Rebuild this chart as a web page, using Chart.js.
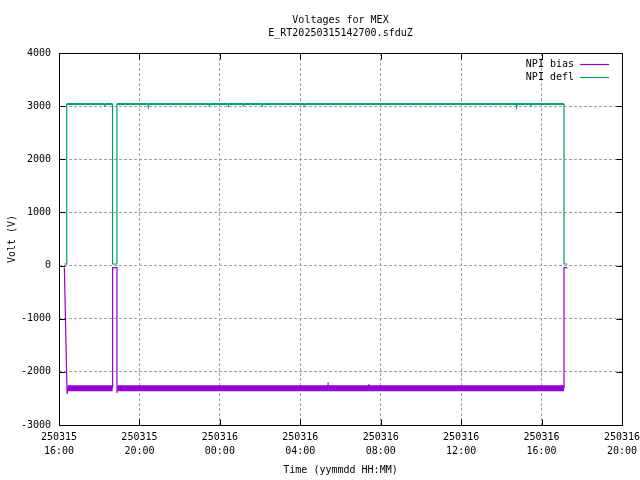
<!DOCTYPE html>
<html>
<head>
<meta charset="utf-8">
<title>Voltages for MEX</title>
<script src="https://cdn.jsdelivr.net/npm/chart.js@4.4.1/dist/chart.umd.min.js"></script>
<style>
body { margin: 0; background: #fff; }
#chart { display: block; }
</style>
</head>
<body>
<canvas id="chart" width="640" height="480"></canvas>
<script>
// Werte (yymmdd HH:MM)
var bias_times = ['250315 16:16', '250315 16:24', '250315 16:25', '250315 18:40', '250315 18:40',
    '250315 18:53', '250315 18:53', '250315 18:54', '250316 05:23', '250316 05:23', '250316 05:23',
    '250316 07:25', '250316 07:25', '250316 07:25', '250316 17:07', '250316 17:07', '250316 17:17'];
var bias_values = [-40, -2400, -2310, -2310, -40,
    -40, -2400, -2310, -2310, -2200, -2310,
    -2310, -2230, -2310, -2310, -40, -40];

var defl_times = ['250315 16:16', '250315 16:23', '250315 16:23', '250315 18:16', '250315 18:16', '250315 18:17',
    '250315 18:40', '250315 18:40', '250315 18:53', '250315 18:53', '250315 20:26', '250315 20:26', '250315 20:27',
    '250315 23:28', '250315 23:28', '250315 23:29', '250316 00:25', '250316 00:25', '250316 00:26',
    '250316 01:10', '250316 01:10', '250316 01:11', '250316 02:06', '250316 02:06', '250316 02:07',
    '250316 04:11', '250316 04:11', '250316 04:12', '250316 14:46', '250316 14:46', '250316 14:47',
    '250316 15:28', '250316 15:28', '250316 15:29', '250316 17:07', '250316 17:07', '250316 17:17'];
var defl_values = [30, 30, 3040, 3040, 2985, 3040,
    3040, 30, 30, 3040, 3040, 2950, 3040,
    3040, 2990, 3040, 3040, 2980, 3040,
    3040, 2995, 3040, 3040, 2985, 3040,
    3040, 2975, 3040, 3040, 3020, 3040,
    3040, 2990, 3040, 3040, 30, 30];

var x_ticks = [16, 20, 24, 28, 32, 36, 40, 44];
var x_tick_labels = [['250315', '16:00'], ['250315', '20:00'], ['250316', '00:00'], ['250316', '04:00'],
    ['250316', '08:00'], ['250316', '12:00'], ['250316', '16:00'], ['250316', '20:00']];
var y_ticks = [-3000, -2000, -1000, 0, 1000, 2000, 3000, 4000];
var y_tick_labels = ['-3000', '-2000', '-1000', '0', '1000', '2000', '3000', '4000'];

var font_name = "'DejaVu Sans Mono', 'Liberation Mono', monospace";
var bias_color = '#9400d3';
var defl_color = '#009e73';

// Stunden seit 250315 00:00
function to_hours(s) {
    var day = parseInt(s.substr(0, 6)) - 250315;
    var hh = parseInt(s.substr(7, 2));
    var mm = parseInt(s.substr(10, 2));
    return day * 24 + hh + mm / 60;
}

function make_points(times, values) {
    var pts = [];
    for (var i = 0; i < times.length; i++) {
        pts.push({x: to_hours(times[i]), y: values[i]});
    }
    return pts;
}

/* --------------------- Rahmen und Ticks nach innen --------------------- */
var frame_plugin = {
    id: 'frame',
    afterDatasetsDraw: function (chart) {
        var c = chart.ctx, a = chart.chartArea;
        var xs = chart.scales.x, ys = chart.scales.y;
        var L = Math.round(a.left) + 0.5, R = Math.round(a.right) + 0.5;
        var T = Math.round(a.top) + 0.5, B = Math.round(a.bottom) + 0.5;
        c.save();
        c.strokeStyle = '#000';
        c.lineWidth = 1;
        c.strokeRect(L, T, R - L, B - T);
        c.beginPath();
        x_ticks.forEach(function (v) {
            var px = Math.round(xs.getPixelForValue(v)) + 0.5;
            c.moveTo(px, B); c.lineTo(px, B - 6);
            c.moveTo(px, T); c.lineTo(px, T + 6);
        });
        y_ticks.forEach(function (v) {
            var py = Math.round(ys.getPixelForValue(v)) + 0.5;
            c.moveTo(L, py); c.lineTo(L + 6, py);
            c.moveTo(R, py); c.lineTo(R - 6, py);
        });
        c.stroke();
        c.restore();
    },
    afterDraw: function (chart) {
        // Legende wie bei gnuplot: Text rechtsbuendig, Linie dahinter
        var c = chart.ctx;
        c.save();
        c.font = '10px ' + font_name;
        c.textAlign = 'right';
        c.textBaseline = 'middle';
        chart.data.datasets.forEach(function (ds, i) {
            var y = 64 + i * 13;
            c.fillStyle = '#000';
            c.fillText(ds.label, 574, y);
            c.strokeStyle = ds.borderColor;
            c.lineWidth = 1.2;
            c.beginPath();
            c.moveTo(580, y + 0.5);
            c.lineTo(609, y + 0.5);
            c.stroke();
        });
        c.restore();
    }
};

var ctx = document.getElementById('chart').getContext('2d');
var chart = new Chart(ctx, {
    type: 'line',
    data: {
        datasets: [{
            label: 'NPI bias',
            data: make_points(bias_times, bias_values),
            borderColor: bias_color,
            backgroundColor: bias_color,
            borderWidth: 1.2,
            pointRadius: 0,
            tension: 0,
            fill: false,
            segment: {
                // das dichte Rauschband als breite Linie
                borderWidth: function (s) {
                    var a = s.p0.parsed.y, b = s.p1.parsed.y;
                    return (a < -2270 && a > -2350 && b < -2270 && b > -2350) ? 6 : 1.2;
                }
            }
        }, {
            label: 'NPI defl',
            data: make_points(defl_times, defl_values),
            borderColor: defl_color,
            backgroundColor: defl_color,
            borderWidth: 1.2,
            pointRadius: 0,
            tension: 0,
            fill: false,
            segment: {
                borderWidth: function (s) {
                    return (s.p0.parsed.y > 3000 && s.p1.parsed.y > 3000) ? 2 : 1.2;
                }
            }
        }]
    },
    plugins: [frame_plugin],
    options: {
        responsive: false,
        animation: false,
        layout: {padding: {left: 0, right: 18, top: 0, bottom: 0}},
        plugins: {
            legend: {display: false},
            tooltip: {enabled: false},
            title: {
                display: true,
                fullSize: false,
                text: ['Voltages for MEX', 'E_RT20250315142700.sfduZ'],
                color: '#000',
                font: {family: font_name, size: 10, weight: 'normal', lineHeight: 1.3},
                padding: {top: 14, bottom: 13}
            }
        },
        scales: {
            x: {
                type: 'linear',
                min: 16,
                max: 44,
                afterFit: function (scale) {
                    scale.height = 55;
                    scale.paddingLeft = 0;
                    scale.paddingRight = 0;
                },
                afterBuildTicks: function (scale) {
                    scale.ticks = x_ticks.map(function (v) { return {value: v}; });
                },
                ticks: {
                    color: '#000',
                    padding: 5,
                    maxRotation: 0,
                    autoSkip: false,
                    font: {family: font_name, size: 10, lineHeight: 1.4},
                    callback: function (value, index) { return x_tick_labels[index]; }
                },
                grid: {
                    color: '#a0a0a0',
                    lineWidth: 1,
                    drawTicks: false
                },
                border: {display: false, dash: [3, 2]},
                title: {
                    display: true,
                    text: 'Time (yymmdd HH:MM)',
                    color: '#000',
                    font: {family: font_name, size: 10, lineHeight: 1.2},
                    padding: {top: 0, bottom: 4}
                }
            },
            y: {
                min: -3000,
                max: 4000,
                afterFit: function (scale) {
                    scale.width = 59;
                    scale.paddingTop = 0;
                    scale.paddingBottom = 0;
                },
                afterBuildTicks: function (scale) {
                    scale.ticks = y_ticks.map(function (v) { return {value: v}; });
                },
                ticks: {
                    color: '#000',
                    padding: 8,
                    font: {family: font_name, size: 10},
                    callback: function (value, index) { return y_tick_labels[index]; }
                },
                grid: {
                    color: '#a0a0a0',
                    lineWidth: 1,
                    drawTicks: false
                },
                border: {display: false, dash: [3, 2]},
                title: {
                    display: true,
                    text: 'Volt (V)',
                    color: '#000',
                    font: {family: font_name, size: 10, lineHeight: 1.2},
                    padding: {top: 6, bottom: 0}
                }
            }
        }
    }
});
</script>
</body>
</html>
